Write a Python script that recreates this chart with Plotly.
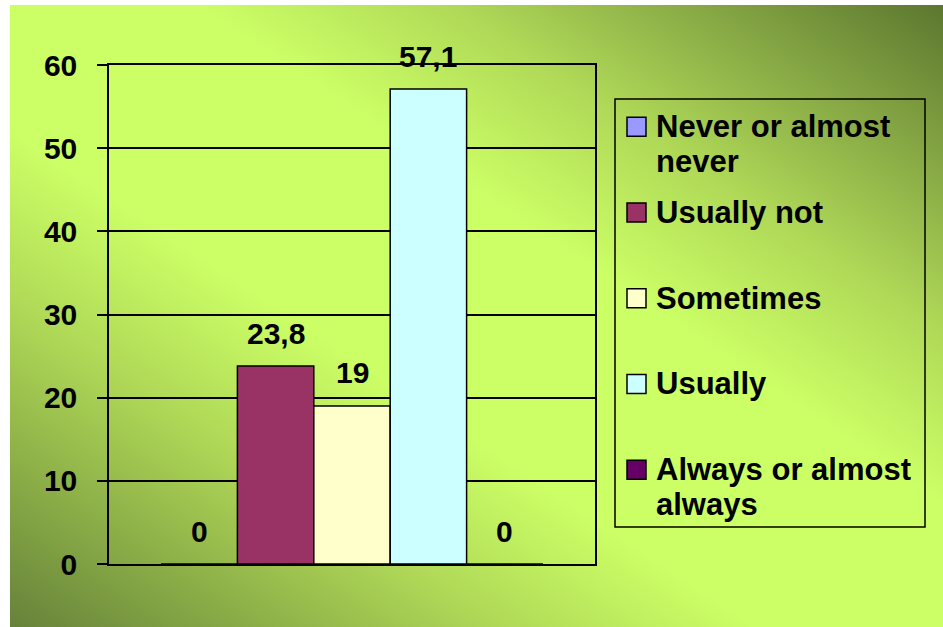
import base64
import plotly.graph_objects as go

# ---- data -------------------------------------------------------------
series = [
    "Never or almost\nnever",
    "Usually not",
    "Sometimes",
    "Usually",
    "Always or almost\nalways",
]
values = [0, 23.8, 19, 57.1, 0]
colors = ["#9999FF", "#993366", "#FFFFCC", "#CCFFFF", "#660066"]
y_ticks = [0, 10, 20, 30, 40, 50, 60]

# ---- page geometry (pixels) ------------------------------------------
W, H = 943, 627
L, R, T, B = 109, 595, 65, 564          # plot area edges
FONT = "Arial, Liberation Sans, sans-serif"
FS = 30          # axis and value labels
FS_LEG = 31      # legend entries
BARGAP = 0.214


def px_x(px):
    return (px - L) / (R - L)


def px_y(py):
    return (B - py) / (B - T)


# ---- bars --------------------------------------------------------------
fig = go.Figure()
for name, val, col in zip(series, values, colors):
    fig.add_bar(
        x=[0], y=[val], name=name.replace("\n", " "),
        marker=dict(color=col, line=dict(color="black", width=1.5)),
        showlegend=False,
    )

# value labels above each bar, placed from the group layout
n = len(values)
group_w = 1 - BARGAP
annotations = []
for i, val in enumerate(values):
    cx = -group_w / 2 + (i + 0.5) * group_w / n
    label = f"{val:g}".replace(".", ",")
    annotations.append(dict(
        x=cx, y=val, xref="x", yref="y", text=label, showarrow=False,
        xanchor="center", yanchor="middle", yshift=33,
        font=dict(family=FONT, size=FS, color="black", weight="bold"),
    ))

# ---- legend drawn as shapes + text -------------------------------------
shapes = [dict(
    type="rect", xref="paper", yref="paper",
    x0=px_x(615), x1=px_x(925), y0=px_y(527), y1=px_y(99),
    line=dict(color="black", width=1.5), fillcolor="rgba(0,0,0,0)",
)]
first_c, step, line_h = 126.7, 85.75, 35
for i, (name, col) in enumerate(zip(series, colors)):
    c = first_c + i * step
    shapes.append(dict(
        type="rect", xref="paper", yref="paper",
        x0=px_x(627), x1=px_x(646), y0=px_y(c + 9.5), y1=px_y(c - 9.5),
        line=dict(color="black", width=1.5), fillcolor=col,
    ))
    for j, part in enumerate(name.split("\n")):
        annotations.append(dict(
            x=px_x(654), y=px_y(c + j * line_h), xref="paper", yref="paper",
            text=part, showarrow=False, xanchor="left", yanchor="middle",
            font=dict(family=FONT, size=FS_LEG, color="black", weight="bold"),
        ))

# ---- diagonal gradient backdrop ----------------------------------------
bw, bh = W - 10, H - 5
svg = (
    f'<svg xmlns="http://www.w3.org/2000/svg" width="{bw}" height="{bh}" '
    f'viewBox="0 0 {bw} {bh}" preserveAspectRatio="none">'
    '<defs><linearGradient id="g" x1="1" y1="0" x2="0" y2="1">'
    '<stop offset="0" stop-color="#5B772F"/>'
    '<stop offset="0.13" stop-color="#86A744"/>'
    '<stop offset="0.26" stop-color="#AFD857"/>'
    '<stop offset="0.40" stop-color="#CCFF66"/>'
    '<stop offset="0.60" stop-color="#CCFF66"/>'
    '<stop offset="0.74" stop-color="#AFD857"/>'
    '<stop offset="0.87" stop-color="#8BAD47"/>'
    '<stop offset="1" stop-color="#66823A"/>'
    '</linearGradient></defs>'
    f'<rect width="{bw}" height="{bh}" fill="url(#g)"/></svg>'
)
bg_src = "data:image/svg+xml;base64," + base64.b64encode(svg.encode()).decode()

fig.update_layout(
    width=W, height=H,
    margin=dict(l=L, r=W - R, t=T, b=H - B, pad=0),
    paper_bgcolor="white", plot_bgcolor="#C0C0C0",
    barmode="group", bargap=BARGAP, bargroupgap=0,
    showlegend=False,
    annotations=annotations, shapes=shapes,
    images=[dict(
        source=bg_src, xref="paper", yref="paper",
        x=px_x(10), y=px_y(5), sizex=bw / (R - L), sizey=bh / (B - T),
        xanchor="left", yanchor="top", sizing="stretch", layer="below",
    )],
    xaxis=dict(
        range=[-0.5, 0.5], showticklabels=False, showgrid=False,
        zeroline=False, showline=True, mirror=True,
        linecolor="black", linewidth=1.5, ticks="",
    ),
    yaxis=dict(
        range=[0, 60], tickmode="array", tickvals=y_ticks,
        ticks="outside", ticklen=10, tickwidth=1.5, tickcolor="black",
        showgrid=True, gridcolor="black", gridwidth=1.5,
        zeroline=False, showline=True, mirror=True,
        linecolor="black", linewidth=1.5, ticklabelstandoff=14,
        tickfont=dict(family=FONT, size=FS, color="black", weight="bold"),
    ),
)

fig.write_html("out.html")
